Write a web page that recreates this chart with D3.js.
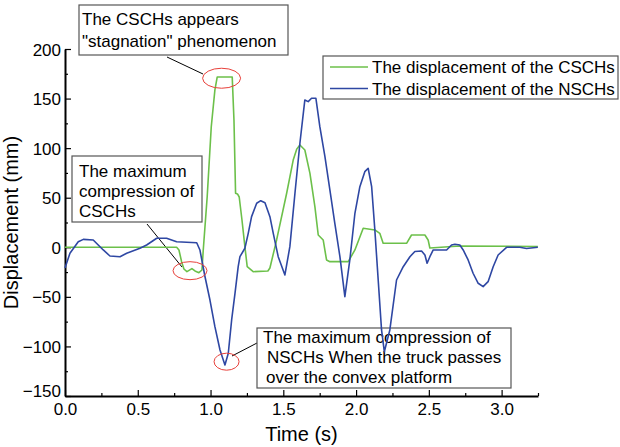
<!DOCTYPE html>
<html>
<head>
<meta charset="utf-8">
<script src="https://cdn.jsdelivr.net/npm/d3@7"></script>
<style>
  body { margin: 0; background: #fff; }
  text { font-family: "Liberation Sans", Arial, sans-serif; }
</style>
</head>
<body>
<div id="chart"></div>
<script>
// CSCHs displacement (green)
var cschTime = [0, 0.767, 0.783, 0.801, 0.817, 0.838, 0.872, 0.893, 0.920, 0.941, 0.950, 0.977, 1.005, 1.030, 1.046, 1.149, 1.161, 1.172, 1.185, 1.197, 1.216, 1.236, 1.252, 1.293, 1.394, 1.408, 1.454, 1.523, 1.568, 1.592, 1.614, 1.648, 1.683, 1.717, 1.740, 1.774, 1.797, 1.820, 1.946, 1.992, 2.049, 2.129, 2.163, 2.186, 2.347, 2.381, 2.473, 2.495, 2.507, 2.713, 3.249];
var cschDisp = [0, 0, -2.7, -14.5, -21.9, -24.6, -21.5, -23.9, -25.6, -22.9, -2.7, 51, 121.6, 158.7, 171.8, 171.8, 128.4, 54.5, 53.8, 50.7, 27.5, 0.6, -19.6, -24.6, -23.9, -20.9, 7.4, 54.5, 88, 99, 103.2, 98.1, 74.6, 41, 12.4, 7.4, -12.8, -14.5, -14.5, -2.7, 19.2, 17.5, 14.1, 4, 4, 12.4, 12.4, 7.4, -0.7, 1.3, 0.8];

// NSCHs displacement (blue)
var nschTime = [0, 0.034, 0.091, 0.126, 0.194, 0.263, 0.309, 0.378, 0.424, 0.515, 0.561, 0.630, 0.698, 0.767, 0.905, 0.927, 0.962, 0.996, 1.030, 1.065, 1.099, 1.122, 1.145, 1.168, 1.190, 1.202, 1.236, 1.259, 1.282, 1.317, 1.345, 1.374, 1.408, 1.431, 1.465, 1.511, 1.545, 1.580, 1.614, 1.648, 1.671, 1.694, 1.724, 1.751, 1.786, 1.820, 1.854, 1.889, 1.923, 1.957, 1.992, 2.026, 2.060, 2.083, 2.107, 2.129, 2.152, 2.175, 2.194, 2.232, 2.278, 2.324, 2.370, 2.404, 2.450, 2.473, 2.488, 2.507, 2.530, 2.622, 2.656, 2.679, 2.713, 2.736, 2.770, 2.804, 2.839, 2.873, 2.907, 2.942, 2.976, 3.034, 3.125, 3.171, 3.249];
var nschDisp = [-21, -6, 5.6, 8, 7.4, -2.7, -8.8, -9.5, -6, -1, 2.3, 9.1, 9.1, 5.6, 4.6, -2.7, -29.7, -53.2, -80.1, -103.6, -118.7, -106.9, -73.3, -46.4, -19.6, -9.5, -1, 14.1, 30.9, 44.4, 47, 45, 30.9, 14.1, -9.5, -27.9, 0.6, 54.5, 104.9, 148.6, 146.9, 150.3, 150.3, 121.6, 91.4, 57.8, 24.2, -9.5, -49.8, -12.8, 34.3, 61.1, 76.3, 79.7, 61.1, 17.5, -33, -83.4, -105.3, -83.4, -33, -19.6, -9.5, -4.2, -3.7, -7.8, -16.1, -9.5, -2.7, -2.7, 2.3, 3, 2.3, -2.7, -12.8, -26.2, -36.3, -39.7, -34.7, -19.6, -7.8, 0, 0, -1.2, 0];

// ticks
var xTicks = [0, 0.5, 1.0, 1.5, 2.0, 2.5, 3.0];
var xMinorTicks = [0.25, 0.75, 1.25, 1.75, 2.25, 2.75, 3.25];
var yTicks = [-150, -100, -50, 0, 50, 100, 150, 200];
var yMinorTicks = [-125, -75, -25, 25, 75, 125, 175];

var seriesNames = ["The displacement of the CSCHs", "The displacement of the NSCHs"];
var seriesColors = ["#6cc04a", "#2e47a3"];

// annotation texts and the data point each one circles
var noteLines = [
  ["The CSCHs appears", "\"stagnation\" phenomenon"],
  ["The maximum", "compression of", "CSCHs"],
  ["The maximum compression of", "NSCHs When the truck passes", "over the convex platform"]
];
var noteTime = [1.076, 0.859, 1.11];
var noteDisp = [170.5, -23.6, -115.4];

var W = 620, H = 447;
var margin = {top: 49, right: 82, bottom: 51, left: 65},
    width = W - margin.left - margin.right,
    height = H - margin.top - margin.bottom;

var svg = d3.select("#chart")
  .append("svg")
    .attr("width", W)
    .attr("height", H)
  .append("g")
    .attr("transform", "translate(" + margin.left + "," + margin.top + ")");

var x = d3.scaleLinear().domain([0, 3.25]).range([0, width]);
var y = d3.scaleLinear().domain([-150, 200]).range([height, 0]);

// minor ticks first
svg.append("g")
  .attr("transform", "translate(0," + height + ")")
  .call(d3.axisBottom(x).tickValues(xMinorTicks).tickSize(-3).tickSizeOuter(0).tickFormat(""))
  .call(g => g.select(".domain").remove());
svg.append("g")
  .call(d3.axisLeft(y).tickValues(yMinorTicks).tickSize(-3).tickSizeOuter(0).tickFormat(""))
  .call(g => g.select(".domain").remove());

// x axis
var xAxis = svg.append("g")
  .attr("transform", "translate(0," + height + ")")
  .call(d3.axisBottom(x).tickValues(xTicks).tickSize(-6).tickSizeOuter(0).tickPadding(7).tickFormat(d3.format(".1f")));
xAxis.selectAll("text").style("font-size", "17px").attr("fill", "#000");

// y axis; the lowest label sits a bit higher so it clears the x labels
var yAxis = svg.append("g")
  .call(d3.axisLeft(y).tickValues(yTicks).tickSize(-6).tickSizeOuter(0).tickPadding(4).tickFormat(d3.format("d")));
yAxis.selectAll("text")
  .style("font-size", "17px")
  .attr("fill", "#000")
  .attr("dy", function (d) { return d === -150 ? "0.05em" : "0.36em"; });

svg.selectAll(".domain").attr("stroke-width", 2);
svg.selectAll(".tick line").attr("stroke-width", 1.2);

// axis titles
svg.append("text")
  .attr("x", width / 2)
  .attr("y", height + 45)
  .attr("text-anchor", "middle")
  .style("font-size", "20px")
  .text("Time (s)");

svg.append("text")
  .attr("transform", "translate(" + (-47) + "," + (height / 2) + ") rotate(-90)")
  .attr("text-anchor", "middle")
  .style("font-size", "20px")
  .text("Displacement (mm)");

// annotation boxes (pixel layout), drawn under the curves like in the original
var noteBox = [
  {x: 79, y: 5, w: 209, h: 50, tx: [82, 82], ty: [25, 47], from: [167, 57], to: [203, 74], rx: 19, ry: 10},
  {x: 72, y: 156, w: 130, h: 66, tx: [79, 79, 79], ty: [177, 197, 217], from: [147, 224], to: [182, 267], rx: 17, ry: 9},
  {x: 257, y: 328, w: 254, h: 60, tx: [263, 267, 266], ty: [343, 363, 383], from: [257, 343], to: [232, 356], rx: 12.5, ry: 8.5}
];

var notes = svg.append("g").attr("transform", "translate(" + (-margin.left) + "," + (-margin.top) + ")");
noteBox.forEach(function (b, i) {
  notes.append("line")
    .attr("x1", b.from[0]).attr("y1", b.from[1])
    .attr("x2", b.to[0]).attr("y2", b.to[1])
    .attr("stroke", "#000")
    .attr("stroke-width", 1);
  notes.append("rect")
    .attr("x", b.x).attr("y", b.y)
    .attr("width", b.w).attr("height", b.h)
    .attr("fill", "#fff")
    .attr("stroke", "#555")
    .attr("stroke-width", 1.2);
  noteLines[i].forEach(function (t, j) {
    notes.append("text")
      .attr("x", b.tx[j])
      .attr("y", b.ty[j])
      .style("font-size", "17px")
      .text(t);
  });
});

// lines
var line = d3.line()
  .x(function (d) { return x(d[0]); })
  .y(function (d) { return y(d[1]); });

var series = [
  d3.zip(cschTime, cschDisp),
  d3.zip(nschTime, nschDisp)
];

svg.selectAll(".series")
  .data(series)
  .enter()
  .append("path")
    .attr("class", "series")
    .attr("d", line)
    .attr("fill", "none")
    .attr("stroke", function (d, i) { return seriesColors[i]; })
    .attr("stroke-width", 1.6)
    .attr("stroke-linejoin", "round");

// red circles around the highlighted points
svg.selectAll(".mark")
  .data(noteBox)
  .enter()
  .append("ellipse")
    .attr("class", "mark")
    .attr("cx", function (d, i) { return x(noteTime[i]); })
    .attr("cy", function (d, i) { return y(noteDisp[i]); })
    .attr("rx", function (d) { return d.rx; })
    .attr("ry", function (d) { return d.ry; })
    .attr("fill", "none")
    .attr("stroke", "#e8403a")
    .attr("stroke-width", 1);

// legend
var legend = svg.append("g")
  .attr("transform", "translate(" + (323 - margin.left) + "," + (56 - margin.top) + ")");
legend.append("rect")
  .attr("width", 295)
  .attr("height", 43)
  .attr("fill", "#fff")
  .attr("stroke", "#555")
  .attr("stroke-width", 1.2);
seriesNames.forEach(function (name, i) {
  legend.append("line")
    .attr("x1", 7).attr("x2", 45)
    .attr("y1", 11 + i * 21.5).attr("y2", 11 + i * 21.5)
    .attr("stroke", seriesColors[i])
    .attr("stroke-width", 1.6);
  legend.append("text")
    .attr("x", 49)
    .attr("y", 11 + i * 21.5 + 6)
    .style("font-size", "17px")
    .text(name);
});
</script>
</body>
</html>
